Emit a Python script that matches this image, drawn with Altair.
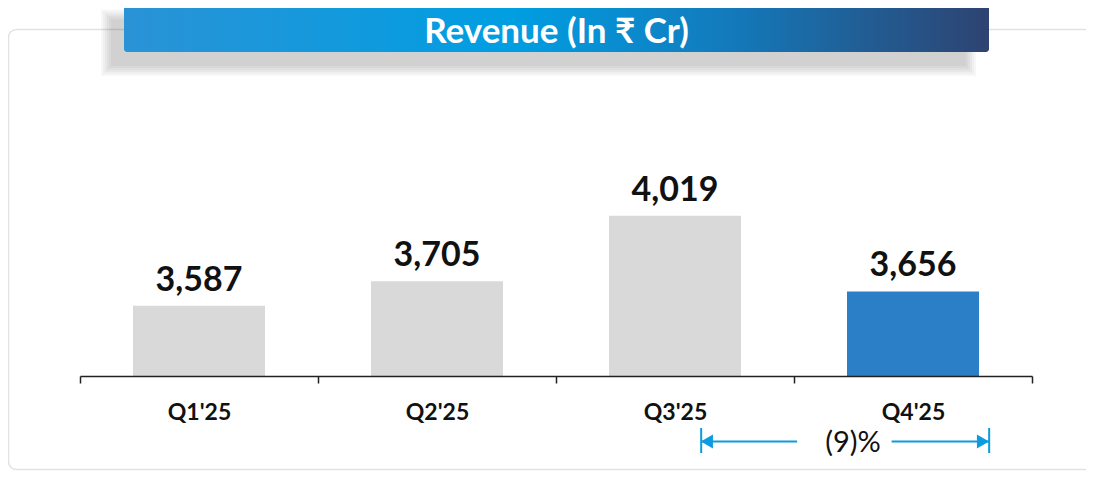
import altair as alt
import pandas as pd

# ---- data ----
quarters = ["Q1'25", "Q2'25", "Q3'25", "Q4'25"]
revenue = [3587, 3705, 4019, 3656]
period = ["prior", "prior", "prior", "current"]
title_text = "Revenue (In ₹ Cr)"
change_text = "(9)%"

df = pd.DataFrame({"quarter": quarters, "revenue": revenue, "period": period})
one = pd.DataFrame({"k": [0]})

Y_MIN, Y_MAX = 3250, 4750
W, H = 952, 312.5
ARROW = "#0A9BE0"
FONT = "Lato"

x_scale = alt.Scale(domain=quarters, paddingInner=0, paddingOuter=0)
y_scale = alt.Scale(domain=[Y_MIN, Y_MAX], zero=False, nice=False)


def deco_rect(x, x2, y, y2, **kw):
    return alt.Chart(one).mark_rect(**kw).encode(
        x=alt.value(x), x2=alt.value(x2), y=alt.value(y), y2=alt.value(y2)
    )


# card background
card = deco_rect(-71.5, 1040, -34, 406, fill="white", stroke="#E2E2E2",
                 strokeWidth=1.5, cornerRadius=8)

# soft shadow under the banner
shadows = []
for i in range(6):
    e = 2 * i
    shadows.append(deco_rect(31 - e, 886 + e, -44 - e, 2.5 + e,
                             color="black", opacity=0.033))

gradient = alt.Gradient(
    gradient="linear",
    stops=[
        alt.GradientStop(color="#2A93D6", offset=0),
        alt.GradientStop(color="#009EE2", offset=0.45),
        alt.GradientStop(color="#137ABB", offset=0.7),
        alt.GradientStop(color="#2E4371", offset=1),
    ],
    x1=0, x2=1, y1=0, y2=0,
)
banner = deco_rect(44, 909, -59.5, -11.5, color=gradient, cornerRadius=3)

title = alt.Chart(one).mark_text(
    text=title_text, font=FONT, fontSize=35, fontWeight="bold", color="white",
    align="center", baseline="middle"
).encode(x=alt.value(476.5), y=alt.value(-32))

bars = alt.Chart(df).mark_bar(size=132).encode(
    x=alt.X("quarter:N", sort=quarters, scale=x_scale,
            axis=alt.Axis(title=None, tickBand="extent", labelAngle=0, grid=False,
                          domainColor="#222222", domainWidth=1.5,
                          tickColor="#222222", tickWidth=1.5, tickSize=7,
                          labelFont=FONT, labelFontSize=23, labelFontWeight="bold",
                          labelColor="#111111", labelPadding=36,
                          labelBaseline="alphabetic", zindex=1)),
    y=alt.Y("revenue:Q", scale=y_scale, axis=None),
    y2=alt.datum(Y_MIN),
    color=alt.Color("period:N", scale=alt.Scale(domain=["prior", "current"],
                                                range=["#D9D9D9", "#2A7FC7"]),
                    legend=None),
)

labels = alt.Chart(df).mark_text(
    font=FONT, fontSize=34, fontWeight="bold", color="#111111",
    baseline="alphabetic", dy=-15
).encode(
    x=alt.X("quarter:N", sort=quarters, scale=x_scale),
    y=alt.Y("revenue:Q", scale=y_scale),
    text=alt.Text("revenue:Q", format=","),
)


def xd(q, bp):
    return alt.XDatum(q, type="nominal", bandPosition=bp)


def x2d(q, bp):
    return alt.X2Datum(q, bandPosition=bp)


end_left = alt.Chart(one).mark_rule(color=ARROW, strokeWidth=2).encode(
    x=xd("Q3'25", 0.61), y=alt.value(364.5), y2=alt.value(389.5))
end_right = alt.Chart(one).mark_rule(color=ARROW, strokeWidth=2).encode(
    x=xd("Q4'25", 0.82), y=alt.value(364.5), y2=alt.value(389.5))
line_left = alt.Chart(one).mark_rule(color=ARROW, strokeWidth=2).encode(
    x=xd("Q3'25", 0.61), x2=x2d("Q4'25", 0.013), y=alt.value(378))
line_right = alt.Chart(one).mark_rule(color=ARROW, strokeWidth=2).encode(
    x=xd("Q4'25", 0.41), x2=x2d("Q4'25", 0.82), y=alt.value(378))
head_left = alt.Chart(one).mark_point(
    shape="triangle-left", filled=True, size=196, opacity=1, color=ARROW
).encode(x=xd("Q3'25", 0.634), y=alt.value(378))
head_right = alt.Chart(one).mark_point(
    shape="triangle-right", filled=True, size=196, opacity=1, color=ARROW
).encode(x=xd("Q4'25", 0.794), y=alt.value(378))
change = alt.Chart(one).mark_text(
    text=change_text, font=FONT, fontSize=29, color="#111111",
    align="center", baseline="middle"
).encode(x=xd("Q4'25", 0.248), y=alt.value(379.5))

chart = alt.layer(
    card, *shadows, banner, title, bars, labels,
    end_left, end_right, line_left, line_right, head_left, head_right, change
).properties(
    width=W, height=H,
    autosize=alt.AutoSizeParams(type="none"),
    padding={"left": 72, "top": 55.5, "right": 54, "bottom": 95},
    background="white",
).configure_view(stroke=None)

chart.save("out.html", embed_options={"renderer": "svg", "actions": False})
